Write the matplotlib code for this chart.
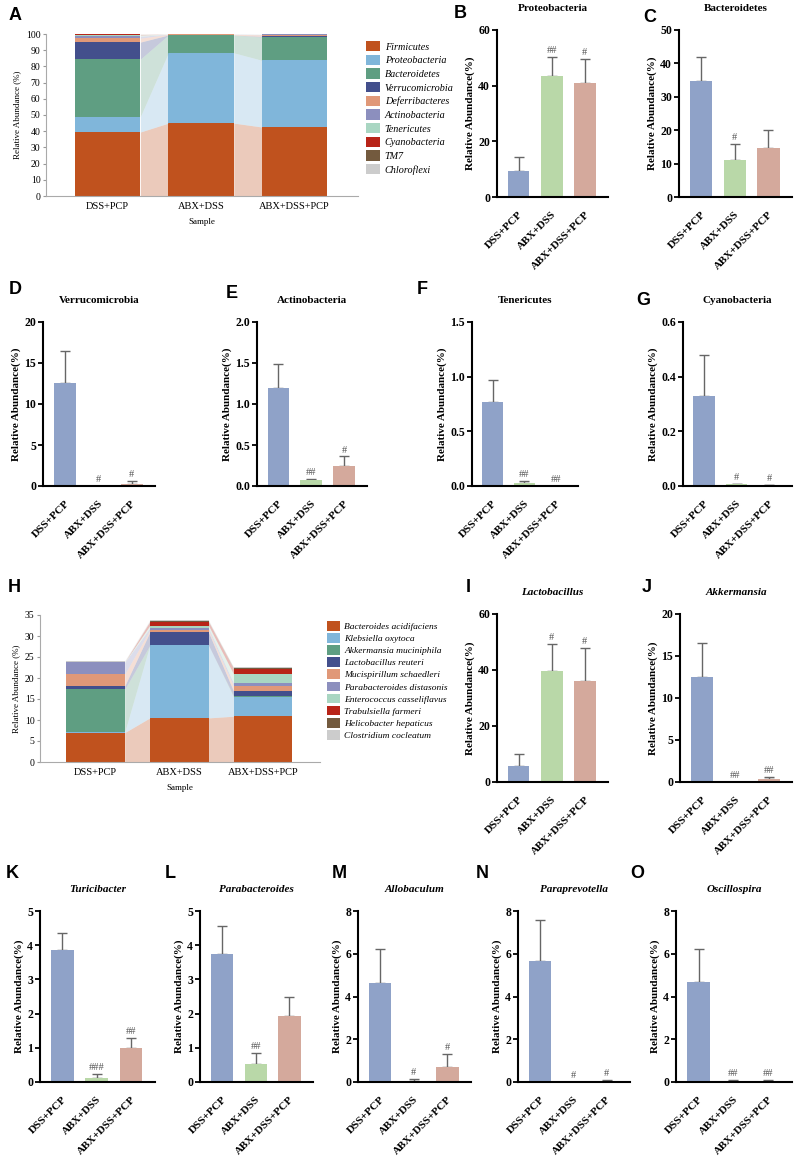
import matplotlib
matplotlib.use('Agg')
import matplotlib.pyplot as plt
import numpy as np

plt.rcParams['font.family'] = 'Liberation Serif'

W, H = 795, 1163

groups = ['DSS+PCP', 'ABX+DSS', 'ABX+DSS+PCP']

# panel A: phylum level relative abundance (%)
phylum_names = ['Firmicutes', 'Proteobacteria', 'Bacteroidetes', 'Verrucomicrobia',
                'Deferribacteres', 'Actinobacteria', 'Tenericutes', 'Cyanobacteria',
                'TM7', 'Chloroflexi']
phylum_abund = [
    [39.5, 45.0, 42.6],
    [9.5, 43.4, 41.2],
    [35.5, 11.0, 14.3],
    [10.5, 0.0, 0.4],
    [2.4, 0.4, 1.0],
    [1.2, 0.07, 0.25],
    [0.8, 0.03, 0.0],
    [0.33, 0.005, 0.003],
    [0.1, 0.01, 0.02],
    [0.05, 0.0, 0.0],
]

# panel H: species level relative abundance (%)
species_names = ['Bacteroides acidifaciens', 'Klebsiella oxytoca', 'Akkermansia muciniphila',
                 'Lactobacillus reuteri', 'Mucispirillum schaedleri', 'Parabacteroides distasonis',
                 'Enterococcus casseliflavus', 'Trabulsiella farmeri', 'Helicobacter hepaticus',
                 'Clostridium cocleatum']
species_abund = [
    [7.0, 10.5, 10.9],
    [0.1, 17.3, 4.5],
    [10.2, 0.0, 0.3],
    [0.8, 3.1, 1.1],
    [2.8, 0.5, 1.2],
    [2.8, 0.5, 0.7],
    [0.1, 0.6, 2.2],
    [0.0, 0.9, 1.2],
    [0.0, 0.1, 0.3],
    [0.3, 0.3, 0.2],
]

stack_colors = ['#c0521e', '#80b6da', '#5f9e82', '#434f8c', '#e09878',
                '#8c8fbe', '#a9d6c2', '#b82418', '#735a3e', '#cccccc']

# single taxon bar panels
bar_letters = ['B', 'C', 'D', 'E', 'F', 'G', 'I', 'J', 'K', 'L', 'M', 'N', 'O']
bar_titles = ['Proteobacteria', 'Bacteroidetes', 'Verrucomicrobia', 'Actinobacteria',
              'Tenericutes', 'Cyanobacteria', 'Lactobacillus', 'Akkermansia',
              'Turicibacter', 'Parabacteroides', 'Allobaculum', 'Paraprevotella',
              'Oscillospira']
bar_means = [
    [9.5, 43.5, 41.0],
    [34.8, 11.0, 14.6],
    [12.5, 0.0, 0.25],
    [1.19, 0.07, 0.24],
    [0.77, 0.03, 0.0],
    [0.33, 0.006, 0.003],
    [5.8, 39.8, 36.0],
    [12.5, 0.0, 0.3],
    [3.87, 0.12, 1.0],
    [3.73, 0.53, 1.92],
    [4.65, 0.07, 0.68],
    [5.67, 0.0, 0.06],
    [4.67, 0.05, 0.06],
]
bar_sds = [
    [4.7, 6.7, 8.5],
    [7.2, 4.8, 5.4],
    [4.0, 0.0, 0.35],
    [0.30, 0.02, 0.12],
    [0.20, 0.02, 0.0],
    [0.15, 0.003, 0.002],
    [4.2, 9.4, 11.7],
    [4.0, 0.0, 0.3],
    [0.48, 0.12, 0.29],
    [0.84, 0.32, 0.58],
    [1.55, 0.08, 0.62],
    [1.93, 0.0, 0.02],
    [1.55, 0.05, 0.05],
]
bar_marks = [
    ['', '##', '#'], ['', '#', ''], ['', '#', '#'], ['', '##', '#'],
    ['', '##', '##'], ['', '#', '#'], ['', '#', '#'], ['', '##', '##'],
    ['', '###', '##'], ['', '##', ''], ['', '#', '#'], ['', '#', '#'],
    ['', '##', '##'],
]
bar_ymax = [60, 50, 20, 2.0, 1.5, 0.6, 60, 20, 5, 5, 8, 8, 8]
bar_ystep = [20, 10, 5, 0.5, 0.5, 0.2, 20, 5, 1, 1, 2, 2, 2]
bar_decimals = [0, 0, 0, 1, 1, 1, 0, 0, 0, 0, 0, 0, 0]
bar_italic = [False] * 6 + [True] * 7
bar_colors = ['#8fa2c8', '#b9d8a8', '#d4a99c']

# layout in pixels: left, top, right, bottom
bar_boxes = [
    (497, 30, 608, 197), (679, 30, 792, 197),
    (43, 322, 155, 486), (257, 322, 367, 486), (472, 322, 578, 486), (683, 322, 792, 486),
    (497, 614, 608, 782), (680, 614, 792, 782),
    (40, 911, 155, 1082), (200, 911, 313, 1082), (358, 911, 471, 1082),
    (518, 911, 630, 1082), (676, 911, 792, 1082),
]
letter_pos = {
    'A': (15, 15), 'B': (460, 13), 'C': (650, 17), 'D': (15, 290), 'E': (232, 293),
    'F': (422, 290), 'G': (643, 300), 'H': (14, 588), 'I': (468, 587), 'J': (647, 587),
    'K': (12, 873), 'L': (170, 873), 'M': (339, 873), 'N': (482, 873), 'O': (637, 873),
}


def px_axes(fig, l, t, r, b):
    return fig.add_axes([l / W, 1 - b / H, (r - l) / W, (b - t) / H])


def stacked_panel(fig, box, names, values, ymax, ystep, legend_xy, fs, lspace):
    ax = px_axes(fig, *box)
    x = np.arange(3)
    w = 0.7
    vals = np.array(values)
    bottoms = np.vstack([np.zeros(3), np.cumsum(vals, axis=0)[:-1]])
    tops = bottoms + vals
    handles = []
    for i, name in enumerate(names):
        h = ax.bar(x, vals[i], w, bottom=bottoms[i], color=stack_colors[i],
                   linewidth=0, label=name)
        handles.append(h)
        for j in range(2):
            xs = [x[j] + w / 2, x[j + 1] - w / 2]
            ax.fill_between(xs, [bottoms[i][j], bottoms[i][j + 1]],
                            [tops[i][j], tops[i][j + 1]],
                            color=stack_colors[i], alpha=0.3, linewidth=0)
    ax.set_xlim(-0.66, 2.68)
    ax.set_ylim(0, ymax)
    ax.set_yticks(np.arange(0, ymax + 0.01, ystep))
    ax.set_xticks(x)
    ax.set_xticklabels(groups, fontsize=7.5)
    ax.tick_params(axis='y', labelsize=7, length=2.5, color='#999999', pad=1.5)
    ax.tick_params(axis='x', length=0, pad=4)
    for s in ['top', 'right']:
        ax.spines[s].set_visible(False)
    for s in ['left', 'bottom']:
        ax.spines[s].set_color('#aaaaaa')
        ax.spines[s].set_linewidth(0.8)
    ax.set_ylabel('Relative Abundance (%)', fontsize=6.5, labelpad=3)
    ax.set_xlabel('Sample', fontsize=6.5, labelpad=5)
    fig.legend(handles=handles, loc='upper left',
               bbox_to_anchor=(legend_xy[0] / W, 1 - legend_xy[1] / H),
               frameon=False, borderpad=0, borderaxespad=0,
               prop={'family': 'Liberation Serif', 'style': 'italic', 'size': fs},
               handlelength=1.35, handleheight=1.2, handletextpad=0.5,
               labelspacing=lspace)
    return ax


def bar_panel(fig, box, title, means, sds, marks, ymax, ystep, dec, italic):
    ax = px_axes(fig, *box)
    x = np.arange(3)
    ax.bar(x, means, 0.66, color=bar_colors, linewidth=0, zorder=2)
    for xi, m, s, mk in zip(x, means, sds, marks):
        if s > 0:
            ax.errorbar([xi], [m], yerr=[[0], [s]], fmt='none', ecolor='#666666',
                        elinewidth=1.0, capsize=3.5, capthick=1.0, zorder=1)
        if mk:
            ax.text(xi, m + s + 0.012 * ymax, mk, ha='center', va='bottom',
                    fontsize=7.5, color='#555555')
    ax.set_xlim(-0.65, 2.7)
    ax.set_ylim(0, ymax)
    ticks = np.arange(0, ymax + ystep * 0.01, ystep)
    ax.set_yticks(ticks)
    ax.set_yticklabels([f'{t:.{dec}f}' for t in ticks], fontsize=8.5, fontweight='bold')
    ax.set_xticks(x)
    ax.set_xticklabels(groups, rotation=45, ha='right', rotation_mode='anchor',
                       fontsize=8, fontweight='bold')
    ax.tick_params(axis='x', length=0, pad=9)
    ax.tick_params(axis='y', length=3.5, width=1.3, pad=1.5)
    for s in ['top', 'right']:
        ax.spines[s].set_visible(False)
    for s in ['left', 'bottom']:
        ax.spines[s].set_linewidth(1.5)
    ax.set_ylabel('Relative Abundance(%)', fontsize=8, fontweight='bold', labelpad=2)
    ax.set_title(title, fontsize=8, fontweight='bold',
                 style='italic' if italic else 'normal', pad=14)
    return ax


def main():
    fig = plt.figure(figsize=(W / 100, H / 100), dpi=100)

    stacked_panel(fig, (46, 34, 358, 196), phylum_names, phylum_abund, 100, 10,
                  (366, 41), 7.3, 0.3)
    stacked_panel(fig, (40, 615, 320, 762), species_names, species_abund, 35, 5,
                  (327, 621), 6.8, 0.22)

    for k in range(len(bar_letters)):
        bar_panel(fig, bar_boxes[k], bar_titles[k], bar_means[k], bar_sds[k],
                  bar_marks[k], bar_ymax[k], bar_ystep[k], bar_decimals[k],
                  bar_italic[k])

    for letter, (lx, ly) in letter_pos.items():
        fig.text(lx / W, 1 - ly / H, letter, ha='center', va='center',
                 fontsize=13, fontweight='bold', family='Liberation Sans')

    fig.savefig('out.png', dpi=100)


if __name__ == '__main__':
    main()
